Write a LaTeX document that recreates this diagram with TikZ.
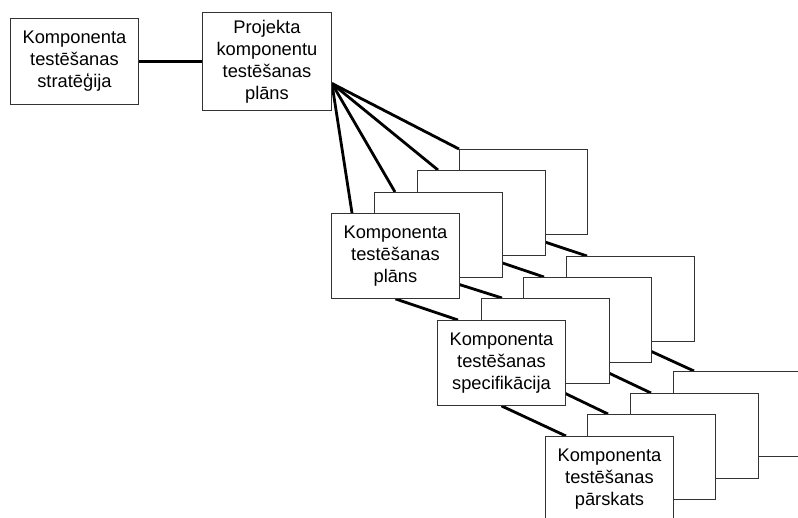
\documentclass[tikz,border=0pt]{standalone}
\usepackage{fontspec}
\setmainfont{Liberation Sans}
\usetikzlibrary{backgrounds}
\begin{document}
\begin{tikzpicture}[x=1pt,y=-1pt,
  box/.style={draw=black!80, line width=0.9pt, fill=white, rectangle, inner sep=0pt,
    align=center, font=\fontsize{18.3pt}{22pt}\selectfont},
  stk/.style={box, minimum width=128pt, minimum height=85pt, anchor=north west},
  conn/.style={line width=2.8pt, black}]
\useasboundingbox (0,0) rectangle (798,517);
\clip (0,0) rectangle (798,517);
% top boxes
\node[box, minimum width=128pt, minimum height=86pt, anchor=north west] (s) at (10,18) {Komponenta\\testēšanas\\stratēģija};
\node[box, minimum width=129pt, minimum height=98pt, anchor=north west] (p) at (202,12) {Projekta\\komponentu\\testēšanas\\plāns};
% group 1
\node[stk] (a4) at (459,149) {};
\node[stk] (a3) at (417,170) {};
\node[stk] (a2) at (374,192) {};
\node[stk] (a1) at (331,213) {Komponenta\\testēšanas\\plāns};
% group 2
\node[stk] (b4) at (566,256) {};
\node[stk] (b3) at (523,277) {};
\node[stk] (b2) at (481,298) {};
\node[stk] (b1) at (437,320) {Komponenta\\testēšanas\\specifikācija};
% group 3
\node[stk] (c4) at (673,371) {};
\node[stk] (c3) at (630,393) {};
\node[stk] (c2) at (587,414) {};
\node[stk] (c1) at (545,436) {Komponenta\\testēšanas\\pārskats};
\coordinate (f) at ([yshift=-22pt]p.east);
\begin{pgfonlayer}{background}
\draw[conn] (s.east) -- (p.west);
\draw[conn] (f) -- ([xshift=21pt]a1.north west);
\draw[conn] (f) -- ([xshift=21pt]a2.north west);
\draw[conn] (f) -- ([xshift=21pt]a3.north west);
\draw[conn] (f) -- (a4.north west);
\foreach \i in {1,2,3,4}{
  \draw[conn] (a\i.south) -- ([xshift=21pt]b\i.north west);
  \draw[conn] (b\i.south) -- ([xshift=21pt]c\i.north west);
}
\end{pgfonlayer}
\end{tikzpicture}
\end{document}
